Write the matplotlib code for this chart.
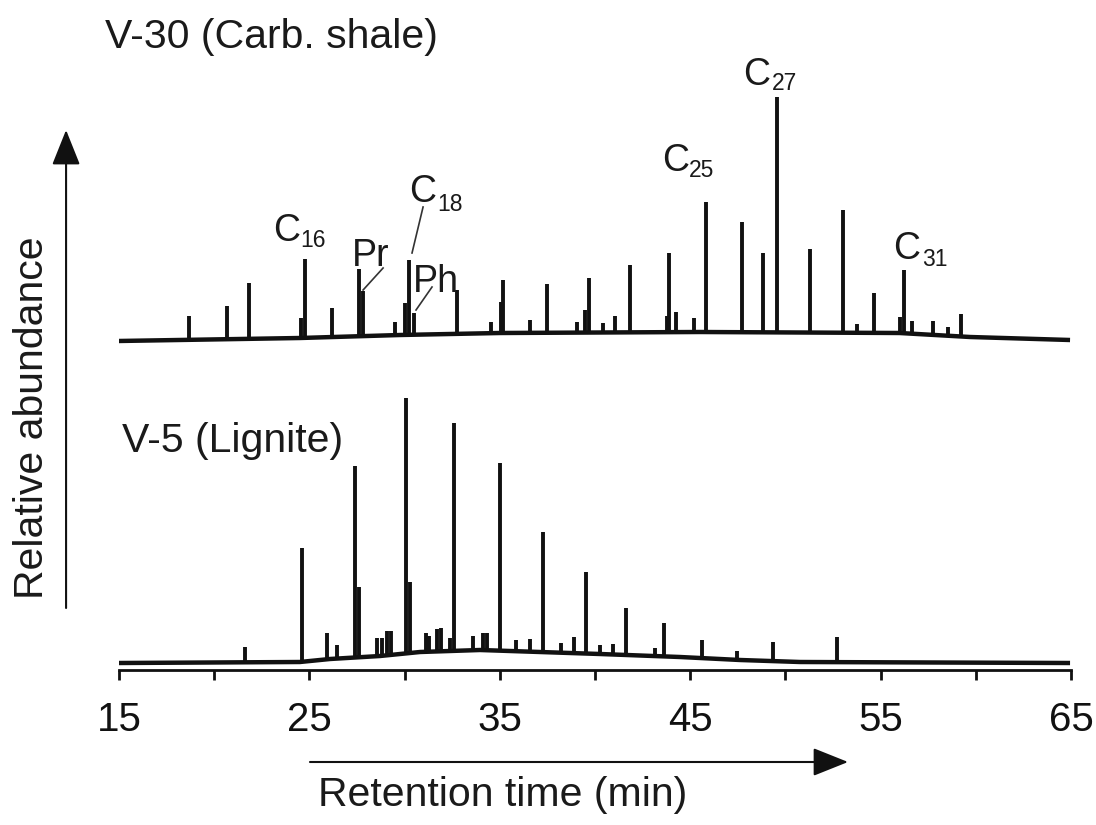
import numpy as np
import matplotlib
matplotlib.use("Agg")
import matplotlib.pyplot as plt
from matplotlib.ticker import FixedLocator, NullFormatter

plt.rcParams['font.family'] = ['Liberation Sans', 'DejaVu Sans']

# ---------------- data ----------------
# V-30 (Carb. shale): baseline knots (min, rel. abundance) and peaks
top_base_t = [14.95, 24.5, 29.76, 35.0, 45.5, 56.0, 59.7, 64.95]
top_base_y = [7, 10, 13, 15, 16, 15, 11, 8]
top_peak_t = [18.68, 20.67, 21.83, 24.56, 24.77, 26.19, 27.60, 27.80, 29.50, 30.02,
              30.23, 30.49, 32.75, 34.54, 35.06, 35.17, 36.59, 37.48, 39.05, 39.47,
              39.68, 40.42, 41.05, 41.84, 43.78, 43.89, 44.25, 45.20, 45.83, 47.72,
              48.82, 49.56, 51.29, 53.03, 53.76, 54.65, 56.02, 56.23, 56.65, 57.75,
              58.54, 59.22]
top_peak_h = [24, 33, 56, 20, 79, 29, 67, 45, 13, 32,
              75, 22, 44, 11, 31, 53, 13, 49, 11, 23,
              55, 9, 16, 67, 16, 79, 20, 14, 130, 110,
              79, 235, 84, 123, 9, 40, 16, 63, 13, 14,
              9, 22]

# V-5 (Lignite)
bot_base_t = [14.95, 24.5, 26.08, 28.71, 30.81, 33.96, 37.11, 40.26, 44.46, 47.62, 50.77, 64.95]
bot_base_y = [7, 8, 11, 14, 18, 20, 18, 16, 13, 10, 8, 7]
bot_peak_t = [21.62, 24.61, 25.92, 26.45, 27.39, 27.60, 28.55, 28.81, 29.08, 29.29,
              30.07, 30.28, 31.12, 31.28, 31.70, 31.91, 32.38, 32.59, 33.59, 34.12,
              34.33, 35.01, 35.85, 36.59, 37.27, 38.21, 38.90, 39.53, 40.26, 40.95,
              41.63, 43.15, 43.62, 45.62, 47.46, 49.35, 52.71]
bot_peak_h = [15, 114, 26, 14, 192, 70, 18, 18, 24, 24,
              255, 71, 19, 16, 22, 23, 13, 228, 14, 17,
              17, 188, 11, 13, 120, 10, 16, 82, 9, 10,
              47, 8, 33, 18, 9, 19, 25]

major_ticks = [15, 25, 35, 45, 55, 65]
minor_ticks = [20, 30, 40, 50, 60]

# ---------------- layout ----------------
W, H = 1096, 825
fig = plt.figure(figsize=(W / 100, H / 100), dpi=100)
ax = fig.add_axes([119 / W, (H - 670) / H, 952 / W, 670 / H])
ax.set_xlim(15, 65)
ax.set_ylim(0, 670)
TOP_OFFSET = 322
ink = '#111111'

for s in ['left', 'top', 'right']:
    ax.spines[s].set_visible(False)
ax.spines['bottom'].set_linewidth(2.0)
ax.spines['bottom'].set_color(ink)
ax.xaxis.set_major_locator(FixedLocator(major_ticks))
ax.xaxis.set_minor_locator(FixedLocator(minor_ticks))
ax.xaxis.set_minor_formatter(NullFormatter())
ax.set_xticklabels([str(v) for v in major_ticks])
ax.tick_params(axis='x', which='both', direction='out', length=7.5, width=2.0,
               color=ink, labelsize=29, pad=15, labelcolor=ink)
ax.set_yticks([])


def draw_trace(base_t, base_y, peak_t, peak_h, offset):
    base_t = np.asarray(base_t)
    base_y = np.asarray(base_y) + offset
    pt = np.asarray(peak_t)
    pb = np.interp(pt, base_t, base_y)
    ax.plot(base_t, base_y, color=ink, lw=3.2, solid_capstyle='butt',
            solid_joinstyle='round')
    ax.vlines(pt, pb, pb + np.asarray(peak_h), color=ink, lw=2.8, capstyle='butt')


draw_trace(top_base_t, top_base_y, top_peak_t, top_peak_h, TOP_OFFSET)
draw_trace(bot_base_t, bot_base_y, bot_peak_t, bot_peak_h, 0)

fs = 29.5
tc = '#1a1a1a'
ax.text(14.26, 622, 'V-30 (Carb. shale)', fontsize=fs, color=tc, va='baseline', ha='left', clip_on=False)
ax.text(15.16, 218, 'V-5 (Lignite)', fontsize=fs, color=tc, va='baseline', ha='left', clip_on=False)

# peak labels (C + subscript)
def clabel(tc_, yc, ts, ys, sub):
    ax.text(tc_, yc, 'C', fontsize=27, color=tc, va='baseline', ha='left')
    ax.text(ts - 0.07, ys, sub, fontsize=16.5, color=tc, va='baseline', ha='left')

clabel(23.09, 429, 24.61, 423, '16')
clabel(30.23, 468, 31.81, 459, '18')
clabel(43.52, 499, 44.99, 493, '25')
clabel(47.77, 585, 49.35, 580, '27')
clabel(55.65, 411, 57.23, 404, '31')
ax.text(27.24, 404, 'Pr', fontsize=27, color=tc, va='baseline', ha='left')
ax.text(30.44, 378, 'Ph', fontsize=27, color=tc, va='baseline', ha='left')

lc = '#333333'
ax.plot([28.87, 27.82], [402, 380], color=lc, lw=1.2)
ax.plot([30.97, 30.39], [463, 417], color=lc, lw=1.2)
ax.plot([31.44, 30.60], [383, 360], color=lc, lw=1.2)

# axis arrows and titles
ax.annotate('', xy=(12.22, 540), xytext=(12.22, 62), annotation_clip=False,
            arrowprops=dict(arrowstyle='-|>,head_length=1.0,head_width=0.4', lw=1.5,
                            color=ink, mutation_scale=22, shrinkA=0, shrinkB=0))
ax.text(10.43, 252, 'Relative abundance', fontsize=fs, color=tc, rotation=90,
        ha='center', va='center', clip_on=False)
ax.annotate('', xy=(53.29, -92), xytext=(25.03, -92), annotation_clip=False,
            arrowprops=dict(arrowstyle='-|>,head_length=1.0,head_width=0.4', lw=1.5,
                            color=ink, mutation_scale=22, shrinkA=0, shrinkB=0))
ax.text(25.45, -136, 'Retention time (min)', fontsize=fs, color=tc, va='baseline',
        ha='left', clip_on=False)

fig.savefig('out.png', dpi=100)
